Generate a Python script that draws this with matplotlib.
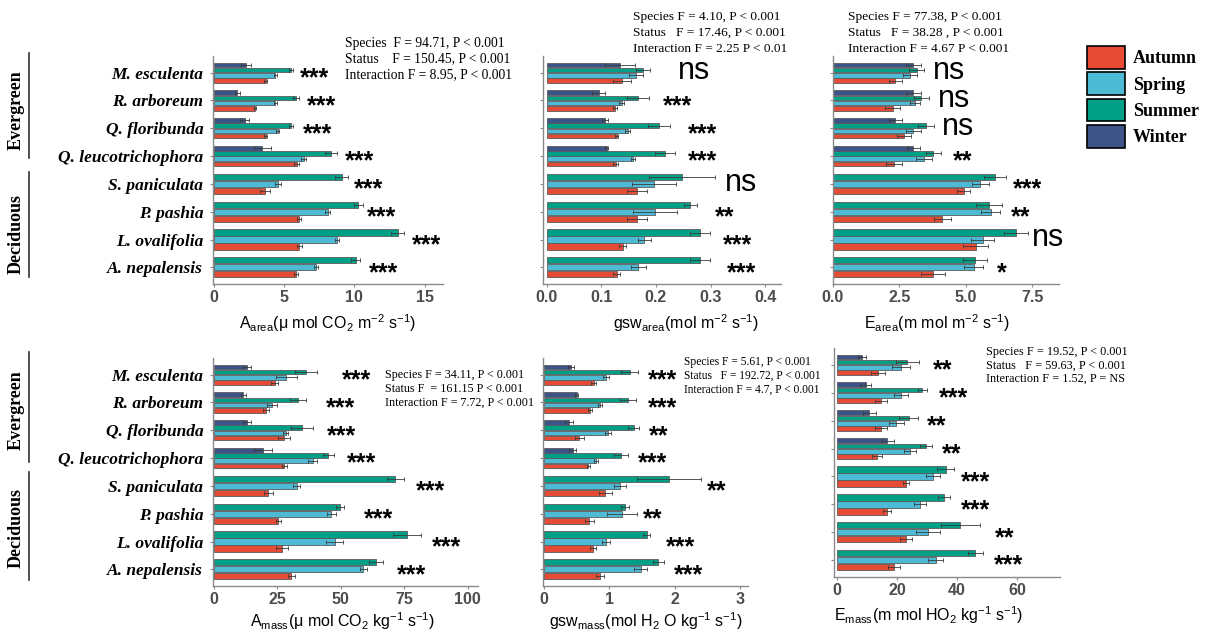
import matplotlib
matplotlib.use("Agg")
import matplotlib.pyplot as plt
from matplotlib.patches import Patch
from matplotlib.lines import Line2D

plt.rcParams["mathtext.fontset"] = "custom"
plt.rcParams["mathtext.rm"] = "Liberation Sans"
plt.rcParams["mathtext.it"] = "Liberation Sans:italic"
plt.rcParams["mathtext.bf"] = "Liberation Sans:bold"

species = ["M. esculenta", "R. arboreum", "Q. floribunda", "Q. leucotrichophora",
           "S. paniculata", "P. pashia", "L. ovalifolia", "A. nepalensis"]
seasons = ["Autumn", "Spring", "Summer", "Winter"]
colors = {"Autumn": "#E64B35", "Spring": "#4DBBD5", "Summer": "#00A087", "Winter": "#3C5488"}

# means and standard errors (winter only measured for the four evergreens)
a_area = {"Autumn": [3.7, 2.95, 3.7, 5.9, 3.65, 6.1, 6.1, 5.85],
          "Spring": [4.4, 4.4, 4.55, 6.4, 4.6, 8.1, 8.8, 7.3],
          "Summer": [5.5, 5.85, 5.5, 8.35, 9.1, 10.3, 13.1, 10.1],
          "Winter": [2.3, 1.7, 2.2, 3.45]}
a_area_se = {"Autumn": [0.1, 0.1, 0.1, 0.15, 0.33, 0.15, 0.2, 0.15],
             "Spring": [0.1, 0.1, 0.1, 0.15, 0.2, 0.15, 0.15, 0.15],
             "Summer": [0.15, 0.2, 0.15, 0.43, 0.45, 0.33, 0.47, 0.3],
             "Winter": [0.33, 0.2, 0.3, 0.6]}

gsw_area = {"Autumn": [0.138, 0.125, 0.128, 0.126, 0.165, 0.165, 0.139, 0.128],
            "Spring": [0.163, 0.137, 0.148, 0.158, 0.197, 0.198, 0.179, 0.168],
            "Summer": [0.176, 0.167, 0.206, 0.217, 0.248, 0.263, 0.281, 0.281],
            "Winter": [0.134, 0.095, 0.107, 0.110]}
gsw_area_se = {"Autumn": [0.017, 0.004, 0.003, 0.005, 0.018, 0.018, 0.006, 0.007],
               "Spring": [0.013, 0.004, 0.005, 0.004, 0.04, 0.04, 0.012, 0.013],
               "Summer": [0.013, 0.02, 0.02, 0.018, 0.06, 0.012, 0.018, 0.018],
               "Winter": [0.027, 0.012, 0.006, 0.003]}

e_area = {"Autumn": [2.34, 2.24, 2.66, 2.28, 4.92, 4.11, 5.36, 3.76],
          "Spring": [2.9, 3.07, 3.02, 3.42, 5.54, 5.93, 5.63, 5.29],
          "Summer": [3.15, 3.32, 3.5, 3.77, 6.09, 5.86, 6.88, 5.35],
          "Winter": [3.02, 3.02, 2.34, 3.02]}
e_area_se = {"Autumn": [0.24, 0.28, 0.26, 0.3, 0.25, 0.31, 0.48, 0.45],
             "Spring": [0.25, 0.19, 0.28, 0.29, 0.31, 0.35, 0.43, 0.36],
             "Summer": [0.28, 0.29, 0.31, 0.29, 0.4, 0.48, 0.44, 0.46],
             "Winter": [0.28, 0.28, 0.25, 0.25]}

a_mass = {"Autumn": [23.9, 20.5, 27.6, 27.7, 21.4, 25.3, 26.8, 30.5],
          "Spring": [28.5, 22.7, 28.2, 38.9, 32.6, 46.2, 47.5, 58.8],
          "Summer": [36.2, 33.0, 34.6, 45.0, 71.4, 49.6, 76.0, 63.9],
          "Winter": [13.1, 11.6, 13.1, 19.3]}
a_mass_se = {"Autumn": [1.3, 1.2, 2.4, 1.0, 1.7, 0.9, 2.4, 1.3],
             "Spring": [4.1, 2.0, 0.9, 1.8, 1.3, 1.7, 3.4, 1.3],
             "Summer": [4.2, 3.1, 4.2, 2.2, 3.4, 1.6, 5.4, 2.8],
             "Winter": [1.6, 1.0, 1.6, 3.7]}

gsw_mass = {"Autumn": [0.76, 0.70, 0.54, 0.68, 0.94, 0.69, 0.75, 0.86],
            "Spring": [0.95, 0.85, 0.98, 0.80, 1.16, 1.20, 0.95, 1.48],
            "Summer": [1.31, 1.28, 1.37, 1.18, 1.91, 1.24, 1.57, 1.75],
            "Winter": [0.41, 0.50, 0.38, 0.44]}
gsw_mass_se = {"Autumn": [0.04, 0.03, 0.07, 0.02, 0.1, 0.07, 0.05, 0.06],
               "Spring": [0.04, 0.03, 0.05, 0.03, 0.09, 0.23, 0.06, 0.1],
               "Summer": [0.13, 0.12, 0.09, 0.11, 0.49, 0.06, 0.05, 0.09],
               "Winter": [0.05, 0.02, 0.06, 0.05]}

e_mass = {"Autumn": [13.7, 14.7, 14.7, 13.3, 23.0, 16.8, 23.0, 18.9],
          "Spring": [21.5, 21.3, 19.8, 24.3, 32.1, 27.7, 30.3, 32.9],
          "Summer": [23.5, 28.5, 23.9, 29.6, 36.2, 35.7, 41.1, 46.1],
          "Winter": [8.5, 9.6, 10.8, 16.8]}
e_mass_se = {"Autumn": [2.2, 2.1, 2.1, 1.7, 1.1, 1.3, 1.9, 2.0],
             "Spring": [3.0, 2.4, 2.4, 2.0, 2.3, 2.1, 4.1, 2.4],
             "Summer": [3.7, 1.6, 3.2, 2.0, 2.9, 2.1, 6.4, 2.5],
             "Winter": [1.3, 1.9, 2.1, 2.1]}

# significance of the season effect per species
sig_a_area = ["***"] * 8
sig_gsw_area = ["ns", "***", "***", "***", "ns", "**", "***", "***"]
sig_e_area = ["ns", "ns", "ns", "**", "***", "**", "ns", "*"]
sig_a_mass = ["***"] * 8
sig_gsw_mass = ["***", "***", "**", "***", "**", "**", "***", "***"]
sig_e_mass = ["**", "***", "**", "**", "***", "***", "**", "***"]

# two-way ANOVA summaries
stats_a_area = ["Species  F = 94.71, P < 0.001", "Status    F = 150.45, P < 0.001",
                "Interaction F = 8.95, P < 0.001"]
stats_gsw_area = ["Species F = 4.10, P < 0.001", "Status   F = 17.46, P < 0.001",
                  "Interaction F = 2.25 P < 0.01"]
stats_e_area = ["Species F = 77.38, P < 0.001", "Status   F = 38.28 , P < 0.001",
                "Interaction F = 4.67 P < 0.001"]
stats_a_mass = ["Species F = 34.11, P < 0.001", "Status F  = 161.15 P < 0.001",
                "Interaction F = 7.72, P < 0.001"]
stats_gsw_mass = ["Species F = 5.61, P < 0.001", "Status   F = 192.72, P < 0.001",
                  "Interaction F = 4.7, P < 0.001"]
stats_e_mass = ["Species F = 19.52, P < 0.001", "Status   F = 59.63, P < 0.001",
                "Interaction F = 1.52, P = NS"]

W, H = 1213, 634
fig = plt.figure(figsize=(W / 100, H / 100), dpi=100)
fig.patch.set_facecolor("white")


def add_ax(left, top, right, bottom):
    return fig.add_axes([left / W, 1 - bottom / H, (right - left) / W, (bottom - top) / H])


panels = [
    dict(box=(213, 56, 443, 284), data=a_area, se=a_area_se, sig=sig_a_area,
         sig_x=[6.15, 6.62, 6.38, 9.35, 9.99, 10.93, 14.13, 11.05],
         xlim=(-0.04, 16.31), ticks=[0, 5, 10, 15], fmt="{:g}",
         xlabel=r"A$_{\mathrm{area}}$($\mathrm{\mu}$ mol CO$_2$ m$^{-2}$ s$^{-1}$)", label_x=0.5,
         labelpad=5, stats=stats_a_area, stats_xy=(345, 43), stats_dy=16, stats_size=9.8,
         ylabels=True),
    dict(box=(543, 56, 781, 284), data=gsw_area, se=gsw_area_se, sig=sig_gsw_area,
         sig_x=[0.240, 0.2135, 0.259, 0.259, 0.327, 0.308, 0.322, 0.330],
         xlim=(-0.0068, 0.429), ticks=[0, 0.1, 0.2, 0.3, 0.4], fmt="{:.1f}",
         xlabel=r"gsw$_{\mathrm{area}}$(mol m$^{-2}$ s$^{-1}$)", label_x=0.6,
         labelpad=5, stats=stats_gsw_area, stats_xy=(633, 17), stats_dy=16, stats_size=9.6,
         ylabels=False),
    dict(box=(833, 56, 1059, 284), data=e_area, se=e_area_se, sig=sig_e_area,
         sig_x=[3.77, 3.96, 4.09, 4.52, 6.75, 6.69, 7.47, 6.15],
         xlim=(0, 8.5), ticks=[0, 2.5, 5, 7.5], fmt="{:.1f}",
         xlabel=r"E$_{\mathrm{area}}$(m mol m$^{-2}$ s$^{-1}$)", label_x=0.46,
         labelpad=5, stats=stats_e_area, stats_xy=(848, 17), stats_dy=16, stats_size=9.6,
         ylabels=False),
    dict(box=(213, 358, 478, 586), data=a_mass, se=a_mass_se, sig=sig_a_mass,
         sig_x=[50.3, 44.1, 44.6, 52.2, 79.5, 59.0, 85.7, 72.2],
         xlim=(-0.4, 104), ticks=[0, 25, 50, 75, 100], fmt="{:g}",
         xlabel=r"A$_{\mathrm{mass}}$($\mathrm{\mu}$ mol CO$_2$ kg$^{-1}$ s$^{-1}$)", label_x=0.49,
         labelpad=2.5, stats=stats_a_mass, stats_xy=(385, 375), stats_dy=14, stats_size=8.7,
         ylabels=True),
    dict(box=(543, 358, 748, 586), data=gsw_mass, se=gsw_mass_se, sig=sig_gsw_mass,
         sig_x=[1.59, 1.59, 1.60, 1.44, 2.49, 1.51, 1.87, 1.98],
         xlim=(-0.015, 3.12), ticks=[0, 1, 2, 3], fmt="{:g}",
         xlabel=r"gsw$_{\mathrm{mass}}$(mol H$_2$ O kg$^{-1}$ s$^{-1}$)", label_x=0.5,
         labelpad=2.5, stats=stats_gsw_mass, stats_xy=(684, 362), stats_dy=14, stats_size=8.3,
         ylabels=False),
    dict(box=(834, 348, 1060, 577), data=e_mass, se=e_mass_se, sig=sig_e_mass,
         sig_x=[32.1, 34.1, 30.1, 34.9, 41.3, 41.2, 52.6, 52.3],
         xlim=(-0.9, 74.2), ticks=[0, 20, 40, 60], fmt="{:g}",
         xlabel=r"E$_{\mathrm{mass}}$(m mol HO$_2$ kg$^{-1}$ s$^{-1}$)", label_x=0.42,
         labelpad=4, stats=stats_e_mass, stats_xy=(986, 352), stats_dy=13.5, stats_size=8.8,
         ylabels=False),
]

group_width = 0.75
for p in panels:
    ax = add_ax(*p["box"])
    data, se = p["data"], p["se"]
    # bars inside each species group, top to bottom: Winter, Summer, Spring, Autumn
    pos = {s: [] for s in seasons}
    hgt = {s: [] for s in seasons}
    for i in range(len(species)):
        order = ["Winter", "Summer", "Spring", "Autumn"] if i < 4 else ["Summer", "Spring", "Autumn"]
        slot = group_width / len(order)
        for k, s in enumerate(order):
            pos[s].append(i - group_width / 2 + (k + 0.5) * slot)
            hgt[s].append(slot * 0.9)
    for s in seasons:
        ax.barh(pos[s], data[s], height=hgt[s], color=colors[s], edgecolor="#5a5a5a",
                linewidth=0.6, xerr=se[s], zorder=2,
                error_kw=dict(ecolor="#3a3a3a", elinewidth=0.6, capsize=1.2, capthick=0.6))
    for i, lab in enumerate(p["sig"]):
        if lab == "ns":
            ax.annotate(lab, (p["sig_x"][i], i), xytext=(0, 1), textcoords="offset points",
                        ha="left", va="center", fontsize=22, family="Liberation Sans",
                        annotation_clip=False)
        else:
            ax.annotate(lab, (p["sig_x"][i], i), xytext=(0, -4), textcoords="offset points",
                        ha="left", va="center", fontsize=18, fontweight="bold",
                        family="Liberation Sans", annotation_clip=False)

    ax.set_ylim(7.6, -0.6)
    ax.set_xlim(*p["xlim"])
    ax.set_yticks(range(len(species)))
    if p["ylabels"]:
        ax.set_yticklabels(species, fontsize=12.5, family="Liberation Serif",
                           fontweight="bold", fontstyle="italic")
    else:
        ax.set_yticklabels([])
    ax.set_xticks(p["ticks"])
    ax.set_xticklabels([p["fmt"].format(t) for t in p["ticks"]], fontsize=11.5,
                       family="Liberation Sans", fontweight="bold", color="#4D4D4D")
    ax.tick_params(axis="both", length=2.5, width=0.8, color="#8a8a8a")
    ax.tick_params(axis="y", pad=4.5)
    ax.tick_params(axis="x", pad=2)
    for side in ("top", "right"):
        ax.spines[side].set_visible(False)
    for side in ("left", "bottom"):
        ax.spines[side].set_color("#8a8a8a")
        ax.spines[side].set_linewidth(1.0)
    ax.set_xlabel(p["xlabel"], fontsize=11.5, family="Liberation Sans", labelpad=p["labelpad"])
    ax.xaxis.label.set_x(p["label_x"])

    sx, sy = p["stats_xy"]
    for j, line in enumerate(p["stats"]):
        fig.text(sx / W, 1 - (sy + j * p["stats_dy"]) / H, line, ha="left", va="center",
                 fontsize=p["stats_size"], family="Liberation Serif")

# leaf habit brackets on the left
for (txt, ty, y0, y1) in [("Evergreen", 110, 53, 158), ("Deciduous", 234, 172, 277),
                          ("Evergreen", 410, 352, 462), ("Deciduous", 528, 472, 580)]:
    fig.text(16 / W, 1 - ty / H, txt, rotation=90, ha="center", va="center",
             fontsize=13, family="Liberation Serif", fontweight="bold")
    fig.add_artist(Line2D([29 / W, 29 / W], [1 - y0 / H, 1 - y1 / H], color="#333333", lw=1.2))

handles = [Patch(facecolor=colors[s], edgecolor="black", linewidth=1.2, label=s) for s in seasons]
fig.legend(handles=handles, loc="upper left", bbox_to_anchor=(1087 / W, 1 - 46 / H),
           frameon=False, prop=dict(family="Liberation Serif", weight="bold", size=13),
           handlelength=2.1, handleheight=1.55, labelspacing=0.21, handletextpad=0.45,
           borderaxespad=0, borderpad=0)

fig.savefig("out.png", dpi=100)
